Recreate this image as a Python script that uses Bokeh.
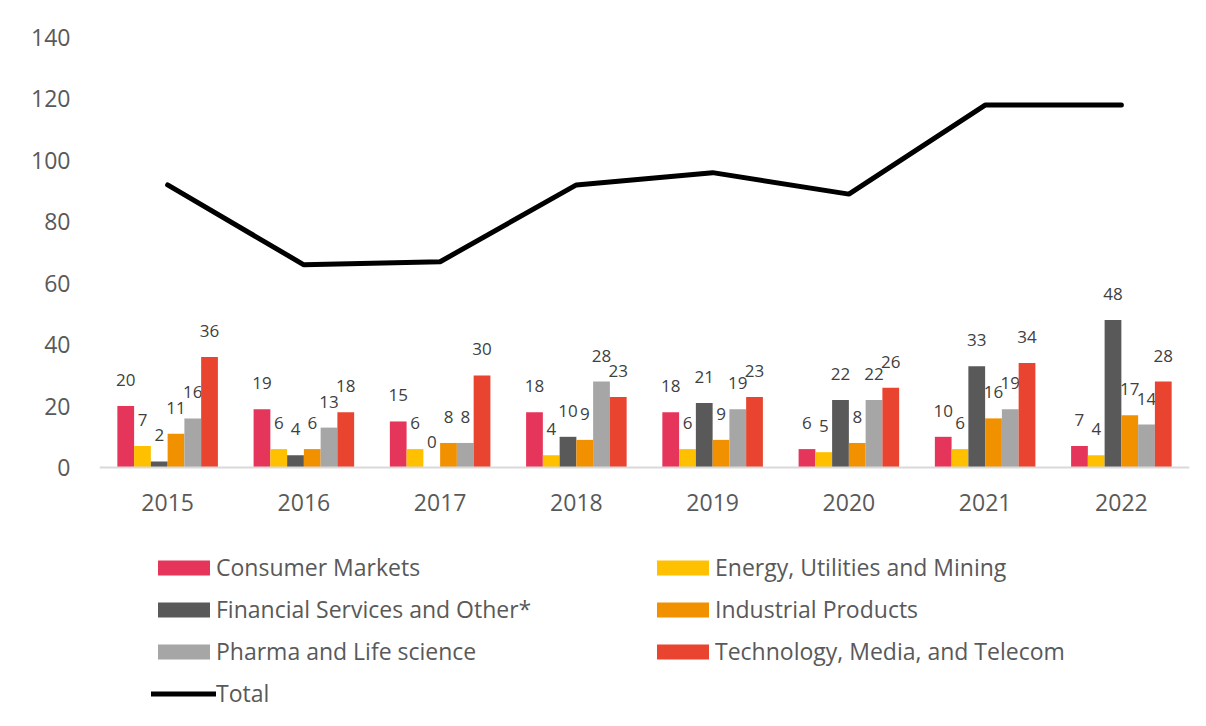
from bokeh.plotting import figure
from bokeh.models import ColumnDataSource, Legend, LegendItem, FactorRange, Span
from bokeh.transform import dodge
from bokeh.core.properties import value
from bokeh.embed import file_html
from bokeh.resources import INLINE

years = ["2015", "2016", "2017", "2018", "2019", "2020", "2021", "2022"]
consumer_markets = [20, 19, 15, 18, 18, 6, 10, 7]
energy_utilities_mining = [7, 6, 6, 4, 6, 5, 6, 4]
financial_services = [2, 4, 0, 10, 21, 22, 33, 48]
industrial_products = [11, 6, 8, 9, 9, 8, 16, 17]
pharma_life_science = [16, 13, 8, 28, 19, 22, 19, 14]
tmt = [36, 18, 30, 23, 23, 26, 34, 28]
total = [92, 66, 67, 92, 96, 89, 118, 118]

series_names = ["Consumer Markets", "Energy, Utilities and Mining",
                "Financial Services and Other*", "Industrial Products",
                "Pharma and Life science", "Technology, Media, and Telecom"]
series_values = [consumer_markets, energy_utilities_mining, financial_services,
                 industrial_products, pharma_life_science, tmt]
colors = ["#E6355A", "#FFC000", "#595959", "#F29100", "#A6A6A6", "#E84430"]

FONT = "Open Sans"
TEXT = "#595959"

W, H = 1190, 710
# frame spans the full height below the top border; value 0 sits at 467px
p = figure(x_range=FactorRange(*years), y_range=(-79.1, 140), width=W, height=H,
           output_backend="svg", toolbar_location=None, x_axis_location=None,
           min_border_left=99, min_border_right=1, min_border_top=37,
           min_border_bottom=0)
p.outline_line_color = None
p.xgrid.grid_line_color = None
p.ygrid.grid_line_color = None
p.x_range.range_padding = 0.0

p.yaxis.ticker = [0, 20, 40, 60, 80, 100, 120, 140]
p.yaxis.axis_line_color = None
p.yaxis.major_tick_line_color = None
p.yaxis.minor_tick_line_color = None
p.yaxis.major_label_text_font = FONT
p.yaxis.major_label_text_font_size = "23px"
p.yaxis.major_label_text_color = TEXT
p.yaxis.major_label_standoff = 23

data = {"year": years}
for i, vals in enumerate(series_values):
    data[f"s{i}"] = vals
data["total"] = total
data["zero"] = [0] * len(years)
src = ColumnDataSource(data)

# category axis: baseline + year labels
p.add_layout(Span(location=0, dimension="width", line_color="#D9D9D9", line_width=2))
p.text(x="year", y="zero", text="year", source=src, text_align="center",
       text_baseline="middle", y_offset=35, text_font=value(FONT),
       text_font_size="23px", text_color=TEXT)

bw = 0.123
renderers = []
for i, (name, col) in enumerate(zip(series_names, colors)):
    off = (i - 2.5) * bw
    r = p.vbar(x=dodge("year", off, range=p.x_range), top=f"s{i}", width=bw,
               source=src, fill_color=col, line_color=None)
    renderers.append(r)
    p.text(x=dodge("year", off, range=p.x_range), y=f"s{i}", text=f"s{i}",
           source=src, text_align="center", text_baseline="middle",
           y_offset=-26, text_font=value(FONT), text_font_size="17px",
           text_color="#404040")

lr = p.line(x="year", y="total", source=src, line_color="black", line_width=5,
            line_cap="round")

items = [
    LegendItem(label=series_names[0], renderers=[renderers[0]]),
    LegendItem(label=series_names[2], renderers=[renderers[2]]),
    LegendItem(label=series_names[4], renderers=[renderers[4]]),
    LegendItem(label="Total", renderers=[lr]),
    LegendItem(label=series_names[1], renderers=[renderers[1]]),
    LegendItem(label=series_names[3], renderers=[renderers[3]]),
    LegendItem(label=series_names[5], renderers=[renderers[5]]),
]
legend = Legend(items=items, ncols=2, orientation="vertical",
                location=(52, 1), padding=0, margin=0,
                border_line_color=None, background_fill_alpha=0,
                glyph_width=65, glyph_height=19, label_height=31,
                label_standoff=0, spacing=10, label_width=424,
                label_text_font=FONT, label_text_font_size="23px",
                label_text_color=TEXT)
p.add_layout(legend, "center")

open("out.html", "w").write(file_html(p, INLINE))
